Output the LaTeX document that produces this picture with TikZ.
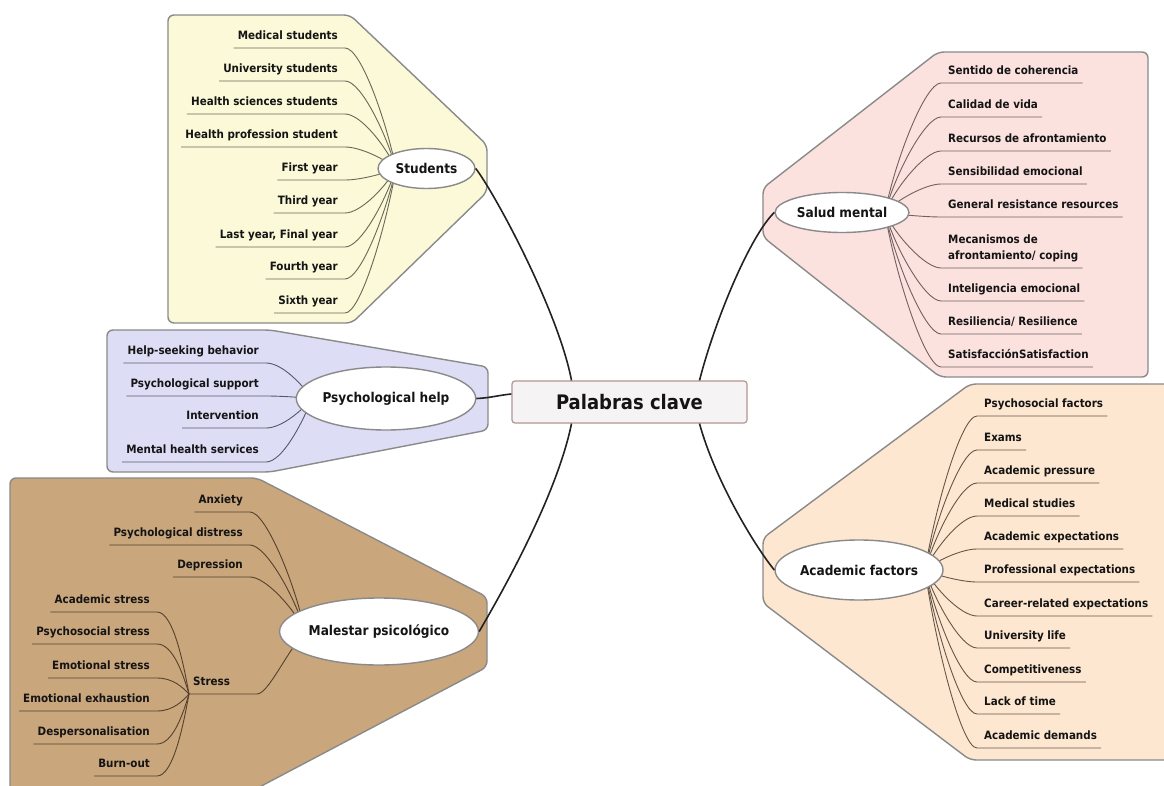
\documentclass[tikz,border=0pt]{standalone}
\usepackage{fontspec}
\setmainfont{DejaVu Sans Condensed}
\usetikzlibrary{shapes.geometric}

\definecolor{yellowp}{HTML}{FBF9D7}
\definecolor{pinkp}{HTML}{FBE2DF}
\definecolor{lavp}{HTML}{DDDDF5}
\definecolor{tanp}{HTML}{C9A67C}
\definecolor{peachp}{HTML}{FDE7D1}
\definecolor{panelline}{HTML}{8A8A8A}
\definecolor{topicline}{HTML}{8A8A8A}
\definecolor{trunkc}{HTML}{222222}
\definecolor{inkc}{HTML}{141414}
\definecolor{twigy}{HTML}{686858}
\definecolor{twigp}{HTML}{726060}
\definecolor{twigl}{HTML}{58586C}
\definecolor{twigt}{HTML}{54422E}
\definecolor{twiga}{HTML}{665648}
\definecolor{centerfill}{HTML}{F6F3F5}
\definecolor{centerline}{HTML}{B49494}

\newcommand\itemfont{\bfseries\fontsize{11.5}{16}\selectfont}
\newcommand\topicfont{\bfseries\fontsize{13.5}{16}\selectfont}

\tikzset{
  panel/.style={draw=panelline, line width=1.4pt, rounded corners=6pt},
  item/.style={font=\itemfont, text=inkc, inner xsep=4pt, inner ysep=5pt,
               text depth=3pt, text height=9pt},
  twig/.style={draw=#1, line width=0.9pt},
  topic/.style={ellipse, draw=topicline, fill=white, line width=1.4pt,
                font=\topicfont, text=inkc, inner sep=0pt},
  trunk/.style={draw=trunkc, line width=1.6pt},
}

% leaf on the left of its topic: text ends left of the bend, curve runs to the hub
\newcommand\lbranch[6]{%
  \node[item, anchor=south east] (#1) at (#3-3,#4) {#2};
  \draw[twig=#6] (#1.south west) -- (#3,#4)
    .. controls (#3+16,#4) and ({\hx-10},{\hy+0.4*(#4-\hy)}) .. (#5);
}
% leaf on the right of its topic
\newcommand\rbranch[6]{%
  \node[item, anchor=south west] (#1) at (#3+3,#4) {#2};
  \draw[twig=#6] (#1.south east) -- (#3,#4)
    .. controls (#3-16,#4) and ({\hx+10},{\hy+0.4*(#4-\hy)}) .. (#5);
}

\begin{document}
\begin{tikzpicture}[x=1pt,y=-1pt]
\useasboundingbox (0,0) rectangle (1164,786);
\clip (0,0) rectangle (1164,786);
\fill[white] (0,0) rectangle (1164,786);

% panels behind each topic
\draw[panel, fill=yellowp] (168,15) -- (350,15) -- (487,145) -- (487,192) -- (352,323) -- (168,323) -- cycle;
\draw[panel, fill=pinkp] (1148,52) -- (1148,377) -- (940,377) -- (763,237) -- (763,188) -- (938,52) -- cycle;
\draw[panel, fill=lavp] (107,330) -- (270,330) -- (488,367) -- (488,430) -- (270,472) -- (107,472) -- cycle;
\draw[panel, fill=tanp] (10,478) -- (257,478) -- (487,597) -- (487,667) -- (250,792) -- (10,792) -- cycle;
\draw[panel, fill=peachp] (1190,384) -- (970,384) -- (763,538) -- (763,603) -- (970,760) -- (1190,760) -- cycle;

% hubs inside the topic ellipses
\coordinate (shub) at (396,168.5);
\coordinate (mhub) at (885,212.5);
\coordinate (phub) at (312,398.5);
\coordinate (mlhub) at (305,631.5);
\coordinate (stresshub) at (189,694);
\coordinate (ahub) at (925,570);

% Students
\def\hx{396}\def\hy{168.5}
\lbranch{s1}{Medical students}{345}{48}{shub}{twigy}
\lbranch{s2}{University students}{345}{81}{shub}{twigy}
\lbranch{s3}{Health sciences students}{345}{114}{shub}{twigy}
\lbranch{s4}{Health profession student}{345}{147}{shub}{twigy}
\lbranch{s5}{First year}{345}{180}{shub}{twigy}
\lbranch{s6}{Third year}{345}{213}{shub}{twigy}
\lbranch{s7}{Last year, Final year}{345}{247}{shub}{twigy}
\lbranch{s8}{Fourth year}{345}{279}{shub}{twigy}
\lbranch{s9}{Sixth year}{345}{313}{shub}{twigy}

% Salud mental
\def\hx{885}\def\hy{212.5}
\rbranch{m1}{Sentido de coherencia}{941}{83}{mhub}{twigp}
\rbranch{m2}{Calidad de vida}{941}{117}{mhub}{twigp}
\rbranch{m3}{Recursos de afrontamiento}{941}{151}{mhub}{twigp}
\rbranch{m4}{Sensibilidad emocional}{941}{184}{mhub}{twigp}
\rbranch{m5}{General resistance resources}{941}{217}{mhub}{twigp}
\rbranch{m6}{\begin{tabular}[b]{@{}l@{}}Mecanismos de\\afrontamiento/ coping\end{tabular}}{941}{268}{mhub}{twigp}
\rbranch{m7}{Inteligencia emocional}{941}{301}{mhub}{twigp}
\rbranch{m8}{Resiliencia/ Resilience}{941}{334}{mhub}{twigp}
\rbranch{m9}{SatisfacciónSatisfaction}{941}{367}{mhub}{twigp}

% Psychological help
\def\hx{312}\def\hy{398.5}
\lbranch{p1}{Help-seeking behavior}{266}{363}{phub}{twigl}
\lbranch{p2}{Psychological support}{266}{396}{phub}{twigl}
\lbranch{p3}{Intervention}{266}{428}{phub}{twigl}
\lbranch{p4}{Mental health services}{266}{462}{phub}{twigl}

% Malestar psicológico
\def\hx{305}\def\hy{631.5}
\lbranch{d1}{Anxiety}{250}{512}{mlhub}{twigt}
\lbranch{d2}{Psychological distress}{250}{545}{mlhub}{twigt}
\lbranch{d3}{Depression}{250}{577}{mlhub}{twigt}
\node[item, anchor=south west] (stress) at (stresshub) {Stress};
\draw[twig=twigt] (stresshub) -- (257,694) .. controls (268,694) and (285,655) .. (mlhub);

% kinds of stress
\def\hx{193}\def\hy{694}
\lbranch{t1}{Academic stress}{157}{612}{stresshub}{twigt}
\lbranch{t2}{Psychosocial stress}{157}{644}{stresshub}{twigt}
\lbranch{t3}{Emotional stress}{157}{678}{stresshub}{twigt}
\lbranch{t4}{Emotional exhaustion}{157}{711}{stresshub}{twigt}
\lbranch{t5}{Despersonalisation}{157}{744}{stresshub}{twigt}
\lbranch{t6}{Burn-out}{157}{776}{stresshub}{twigt}

% Academic factors
\def\hx{925}\def\hy{570}
\rbranch{a1}{Psychosocial factors}{977}{416}{ahub}{twiga}
\rbranch{a2}{Exams}{977}{450}{ahub}{twiga}
\rbranch{a3}{Academic pressure}{977}{483}{ahub}{twiga}
\rbranch{a4}{Medical studies}{977}{516}{ahub}{twiga}
\rbranch{a5}{Academic expectations}{977}{549}{ahub}{twiga}
\rbranch{a6}{Professional expectations}{977}{582}{ahub}{twiga}
\rbranch{a7}{Career-related expectations}{977}{616}{ahub}{twiga}
\rbranch{a8}{University life}{977}{648}{ahub}{twiga}
\rbranch{a9}{Competitiveness}{977}{682}{ahub}{twiga}
\rbranch{a10}{Lack of time}{977}{714}{ahub}{twiga}
\rbranch{a11}{Academic demands}{977}{748}{ahub}{twiga}

% topics
\node[topic, minimum width=97pt, minimum height=40pt] (students) at (426.5,168.5) {Students};
\node[topic, minimum width=134pt, minimum height=40pt] (salud) at (842,212.5) {Salud mental};
\node[topic, minimum width=178pt, minimum height=63pt] (psych) at (386,398.5) {Psychological help};
\node[topic, minimum width=192pt, minimum height=67pt] (malestar) at (379,631.5) {Malestar psicológico};
\node[topic, minimum width=168pt, minimum height=60pt] (academic) at (859,570) {Academic factors};

% central topic
\node[draw=centerline, fill=centerfill, line width=1.2pt, rounded corners=3pt,
      minimum width=235pt, minimum height=42pt, inner sep=0pt,
      font=\bfseries\fontsize{20}{24}\selectfont, text=inkc] (pc) at (629.5,402) {Palabras clave};

% main connectors
\draw[trunk] ([xshift=-58pt]pc.north) .. controls (558,310) and (494,192) .. (students.east);
\draw[trunk] ([xshift=70pt]pc.north) .. controls (715,320) and (750,236) .. (salud.west);
\draw[trunk] ([yshift=8pt]pc.west) .. controls (500,395) and (490,398) .. (psych.east);
\draw[trunk] ([xshift=-58pt]pc.south) .. controls (556,500) and (494,606) .. (malestar.east);
\draw[trunk] ([xshift=70pt]pc.south) .. controls (715,480) and (754,545) .. (academic.west);
\end{tikzpicture}
\end{document}
